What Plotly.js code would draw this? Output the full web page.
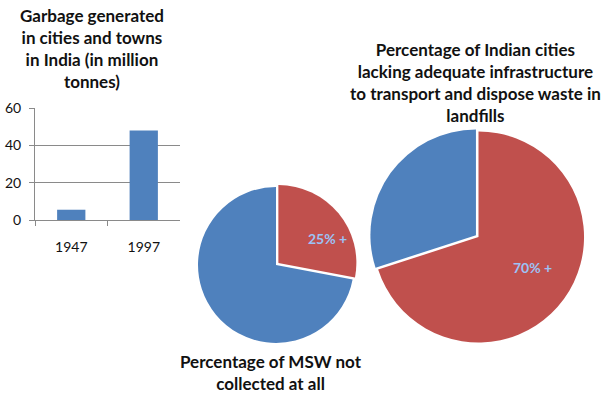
<!DOCTYPE html>
<html>
<head>
<meta charset="utf-8">
<script src="https://cdn.plot.ly/plotly-3.0.1.min.js"></script>
<style>html,body{margin:0;padding:0;background:#fff;}#chart{width:607px;height:396px;}</style>
</head>
<body>
<div id="chart"></div>
<script>
// Bar chart data
const barYears = ['1947', '1997'];
const barValues = [5.5, 48];

// Pie 1: MSW not collected
const pie1Labels = ['Not collected', 'Collected'];
const pie1Values = [28, 72];
const pie1Text = ['25% +', ''];

// Pie 2: cities lacking infrastructure
const pie2Labels = ['Lacking infrastructure', 'Adequate'];
const pie2Values = [70, 30];
const pie2Text = ['70% +', ''];

const titleBar = 'Garbage generated<br>in cities and towns<br>in India (in million<br>tonnes)';
const titlePie1 = 'Percentage of MSW not<br>collected at all';
const titlePie2 = 'Percentage of Indian cities<br>lacking adequate infrastructure<br>to transport and dispose waste in<br>landfills';

const BLUE = '#4F81BD', RED = '#C0504D';
const W = 607, H = 396;
const px = x => x / W, py = y => 1 - y / H;
const FONT = 'Lato, "Open Sans", sans-serif';
const LABEL_FONT = {family: FONT, size: 14, color: '#9CC2F5'};

const data = [
  {
    type: 'bar', x: barYears, y: barValues,
    marker: {color: BLUE}, xaxis: 'x', yaxis: 'y', hoverinfo: 'none'
  },
  {
    type: 'pie', labels: pie1Labels, values: pie1Values,
    textinfo: 'none',
    sort: false, direction: 'clockwise', rotation: 0,
    pull: [0.04, 0],
    marker: {colors: [RED, BLUE], line: {color: '#fff', width: 0}},
    domain: {x: [px(194.9), px(357.1)], y: [py(346.1), py(183.9)]},
    showlegend: false, hoverinfo: 'none'
  },
  {
    type: 'pie', labels: pie2Labels, values: pie2Values,
    textinfo: 'none',
    sort: false, direction: 'clockwise', rotation: 0,
    pull: [0, 0.03],
    marker: {colors: [RED, BLUE], line: {color: '#fff', width: 0}},
    domain: {x: [px(369.8), px(587.2)], y: [py(345.7), py(128.3)]},
    showlegend: false, hoverinfo: 'none'
  }
];

const layout = {
  width: W, height: H,
  margin: {l: 0, r: 0, t: 0, b: 0},
  paper_bgcolor: '#fff', plot_bgcolor: '#fff',
  showlegend: false,
  font: {family: FONT, color: '#111', size: 13},
  bargap: 0.61,
  xaxis: {
    domain: [px(35), px(180)], type: 'category',
    showline: true, linecolor: '#8a8a8a', linewidth: 1,
    ticks: 'outside', tickson: 'boundaries', ticklen: 5, tickcolor: '#8a8a8a',
    ticklabelstandoff: 14,
    tickfont: {family: FONT, size: 14, color: '#111'}, showgrid: false, zeroline: false,
    fixedrange: true
  },
  yaxis: {
    domain: [py(220), py(108)], range: [0, 60], dtick: 20,
    showgrid: true, gridcolor: '#8a8a8a', gridwidth: 1,
    showline: true, linecolor: '#8a8a8a', linewidth: 1,
    ticks: 'outside', ticklen: 5, tickcolor: '#8a8a8a',
    ticklabelstandoff: 5,
    tickfont: {family: FONT, size: 14, color: '#111'}, zeroline: false, fixedrange: true
  },
  annotations: [
    {text: '<b>' + titleBar + '</b>', x: px(92), y: py(48), xref: 'paper', yref: 'paper',
     xanchor: 'center', yanchor: 'middle', showarrow: false,
     font: {family: FONT, size: 17, color: '#111'}},
    {text: '<b>' + titlePie2 + '</b>', x: px(475), y: py(83), xref: 'paper', yref: 'paper',
     xanchor: 'center', yanchor: 'middle', showarrow: false,
     font: {family: FONT, size: 17, color: '#111'}},
    {text: '<b>' + titlePie1 + '</b>', x: px(271), y: py(372.5), xref: 'paper', yref: 'paper',
     xanchor: 'center', yanchor: 'middle', showarrow: false,
     font: {family: FONT, size: 17, color: '#111'}},
    {text: '<b>' + pie1Text[0] + '</b>', x: px(327), y: py(238), xref: 'paper', yref: 'paper',
     xanchor: 'center', yanchor: 'middle', showarrow: false, font: LABEL_FONT},
    {text: '<b>' + pie2Text[0] + '</b>', x: px(532), y: py(267), xref: 'paper', yref: 'paper',
     xanchor: 'center', yanchor: 'middle', showarrow: false, font: LABEL_FONT}
  ]
};

Plotly.newPlot('chart', data, layout, {staticPlot: true, displayModeBar: false});
</script>
</body>
</html>
